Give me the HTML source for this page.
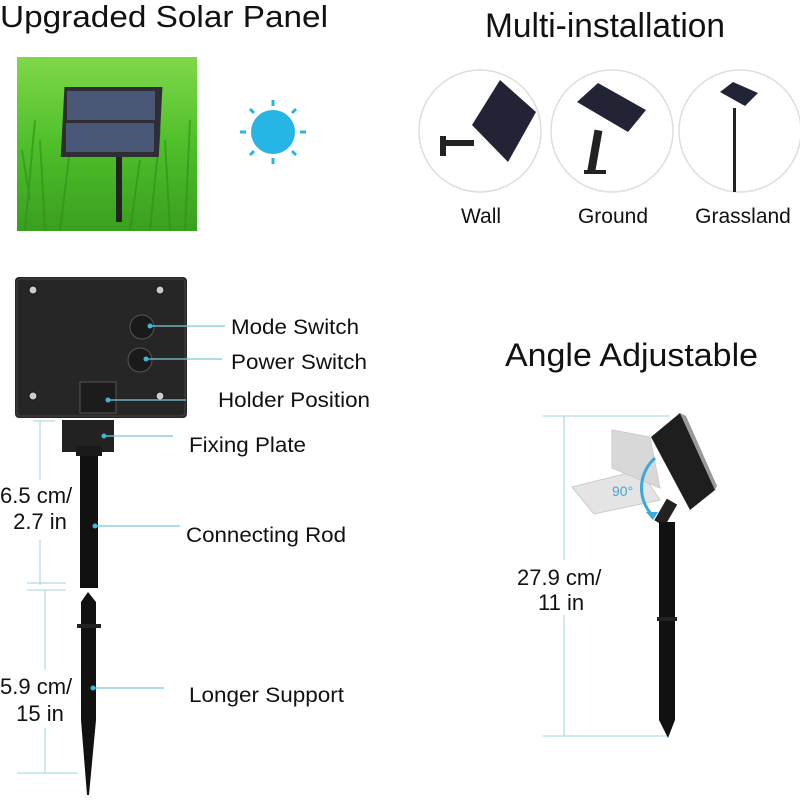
<!DOCTYPE html>
<html><head><meta charset="utf-8"><style>
html,body{margin:0;padding:0;background:#fff;}
svg{display:block;font-family:"Liberation Sans",sans-serif;}
</style></head><body>
<svg width="800" height="800" viewBox="0 0 800 800" xmlns="http://www.w3.org/2000/svg">
<defs>
<linearGradient id="grass" x1="0" y1="0" x2="0" y2="1">
<stop offset="0" stop-color="#7fd84a"/><stop offset="0.5" stop-color="#4fbf2a"/><stop offset="1" stop-color="#3a9f1f"/>
</linearGradient>
</defs>
<!-- Titles -->
<text x="0" y="27" font-size="31" fill="#111" textLength="328" lengthAdjust="spacingAndGlyphs">Upgraded Solar Panel</text>
<text x="485" y="37" font-size="34" fill="#111" textLength="240" lengthAdjust="spacingAndGlyphs">Multi-installation</text>
<text x="505" y="366" font-size="32" fill="#111" textLength="253" lengthAdjust="spacingAndGlyphs">Angle Adjustable</text>

<!-- Grass image -->
<rect x="17" y="57" width="180" height="174" fill="url(#grass)"/>
<g stroke="#2f8f18" stroke-width="2" opacity="0.6">
<line x1="25" y1="230" x2="35" y2="120"/><line x1="45" y1="230" x2="40" y2="140"/><line x1="60" y1="230" x2="70" y2="150"/>
<line x1="150" y1="230" x2="160" y2="130"/><line x1="170" y1="230" x2="165" y2="140"/><line x1="185" y1="230" x2="190" y2="120"/>
<line x1="130" y1="230" x2="140" y2="160"/><line x1="30" y1="200" x2="22" y2="150"/>
</g>
<rect x="63" y="87" width="98" height="70" fill="#2e2e33" transform="skewX(-3) translate(6,0)"/>
<rect x="67" y="91" width="88" height="29" fill="#4a5878"/>
<rect x="66" y="123" width="88" height="29" fill="#4a5878"/>
<rect x="116" y="157" width="6" height="65" fill="#222"/>

<!-- Sun -->
<g fill="#27b5e6" stroke="#27b5e6" stroke-width="3">
<circle cx="273" cy="132" r="22" stroke="none"/>
<line x1="273" y1="100" x2="273" y2="106"/><line x1="273" y1="158" x2="273" y2="164"/>
<line x1="240" y1="132" x2="246" y2="132"/><line x1="300" y1="132" x2="306" y2="132"/>
<line x1="250" y1="109" x2="254" y2="113"/><line x1="292" y1="151" x2="296" y2="155"/>
<line x1="296" y1="109" x2="292" y2="113"/><line x1="254" y1="151" x2="250" y2="155"/>
</g>

<!-- Install circles -->
<g fill="#fff" stroke="#ddd" stroke-width="1.5">
<circle cx="480" cy="131" r="61"/><circle cx="612" cy="131" r="61"/><circle cx="740" cy="131" r="61"/>
</g>
<polygon points="472,125 500,80 536,112 508,162" fill="#232336"/>
<rect x="440" y="140" width="34" height="6" fill="#222"/><rect x="440" y="136" width="6" height="20" fill="#222"/>
<polygon points="577,102 598,83 646,110 628,132" fill="#232336"/>
<rect x="591" y="130" width="8" height="42" fill="#222" transform="rotate(10 595 150)"/>
<rect x="584" y="170" width="22" height="4" fill="#222"/>
<polygon points="720,92 733,82 758,93 745,106" fill="#232336"/>
<rect x="733" y="108" width="3" height="84" fill="#222"/>

<text x="481" y="223" font-size="21" fill="#111" text-anchor="middle">Wall</text>
<text x="613" y="223" font-size="21" fill="#111" text-anchor="middle">Ground</text>
<text x="743" y="223" font-size="21" fill="#111" text-anchor="middle">Grassland</text>

<!-- Box -->
<rect x="15" y="277" width="172" height="141" rx="4" fill="#262626"/>
<rect x="17" y="279" width="168" height="137" rx="3" fill="none" stroke="#444"/>
<g fill="#ccc" stroke="#111"><circle cx="33" cy="290" r="4"/><circle cx="160" cy="290" r="4"/><circle cx="33" cy="396" r="4"/><circle cx="160" cy="396" r="4"/></g>
<circle cx="142" cy="327" r="12" fill="#1a1a1a" stroke="#555"/>
<circle cx="140" cy="360" r="12" fill="#1a1a1a" stroke="#555"/>
<rect x="80" y="382" width="36" height="31" fill="#1c1c1c" stroke="#555"/>
<!-- Fixing plate & rod -->
<rect x="62" y="420" width="52" height="32" fill="#222"/>
<rect x="80" y="450" width="18" height="138" fill="#111"/>
<rect x="76" y="446" width="26" height="10" fill="#1a1a1a"/>
<!-- Spike -->
<polygon points="81,602 88,592 96,602 96,720 89,795 87,795 81,720" fill="#111"/>
<rect x="77" y="624" width="24" height="4" fill="#222"/>

<!-- Cyan leader lines -->
<g stroke="#7ec8d8" stroke-width="1.2">
<line x1="148" y1="326" x2="225" y2="326"/><line x1="145" y1="359" x2="222" y2="359"/>
<line x1="108" y1="400" x2="186" y2="400"/><line x1="104" y1="436" x2="173" y2="436"/>
<line x1="95" y1="526" x2="180" y2="526"/><line x1="93" y1="688" x2="164" y2="688"/>
</g>
<g fill="#3ab8d8"><circle cx="150" cy="326" r="2.5"/><circle cx="146" cy="359" r="2.5"/><circle cx="108" cy="400" r="2.5"/><circle cx="104" cy="436" r="2.5"/><circle cx="95" cy="526" r="2.5"/><circle cx="93" cy="688" r="2.5"/></g>

<g font-size="21" fill="#111">
<text x="231" y="334" textLength="128" lengthAdjust="spacingAndGlyphs">Mode Switch</text>
<text x="231" y="369" textLength="136" lengthAdjust="spacingAndGlyphs">Power Switch</text>
<text x="218" y="407" textLength="152" lengthAdjust="spacingAndGlyphs">Holder Position</text>
<text x="189" y="452" textLength="117" lengthAdjust="spacingAndGlyphs">Fixing Plate</text>
<text x="186" y="542" textLength="160" lengthAdjust="spacingAndGlyphs">Connecting Rod</text>
<text x="189" y="702" textLength="155" lengthAdjust="spacingAndGlyphs">Longer Support</text>
</g>

<!-- Left dims -->
<g stroke="#9fd3df" stroke-width="1">
<line x1="40" y1="421" x2="40" y2="480"/><line x1="40" y1="540" x2="40" y2="585"/>
<line x1="33" y1="421" x2="55" y2="421"/><line x1="27" y1="583" x2="66" y2="583"/>
<line x1="27" y1="590" x2="66" y2="590"/>
<line x1="45" y1="590" x2="45" y2="670"/><line x1="45" y1="728" x2="45" y2="773"/>
<line x1="17" y1="773" x2="78" y2="773"/>
</g>
<g font-size="22" fill="#111">
<text x="0" y="503">6.5 cm/</text><text x="40" y="529" text-anchor="middle">2.7 in</text>
<text x="0" y="694">5.9 cm/</text><text x="40" y="721" text-anchor="middle">15 in</text>
</g>

<!-- Angle adjustable -->
<g stroke="#9fd3df" stroke-width="1">
<line x1="543" y1="416" x2="670" y2="416"/><line x1="543" y1="736" x2="668" y2="736"/>
<line x1="564" y1="416" x2="564" y2="560"/><line x1="564" y1="615" x2="564" y2="736"/>
</g>
<text x="517" y="585" font-size="22" fill="#111">27.9 cm/</text>
<text x="538" y="610" font-size="22" fill="#111">11 in</text>
<!-- ghost panels -->
<polygon points="572,487 640,470 660,500 594,514" fill="#e4e4e4" stroke="#ccc"/>
<polygon points="612,430 650,437 660,488 612,468" fill="#d8d8d8" stroke="#ccc"/>
<!-- panel -->
<polygon points="651,437 680,413 715,490 690,510" fill="#1e1e1e"/>
<polygon points="680,413 686,416 717,486 715,490" fill="#999"/>
<!-- arm & pole -->
<rect x="660" y="500" width="12" height="25" fill="#222" transform="rotate(30 666 512)"/>
<polygon points="659,522 675,522 675,720 668,738 659,720" fill="#111"/>
<rect x="657" y="617" width="20" height="4" fill="#222"/>
<!-- arc -->
<path d="M655,458 A40,40 0 0 0 652,515" fill="none" stroke="#3aa9dc" stroke-width="3"/>
<polygon points="646,512 658,512 653,520" fill="#3aa9dc"/>
<text x="612" y="496" font-size="14" fill="#3aa9dc">90°</text>
</svg>
</body></html>
